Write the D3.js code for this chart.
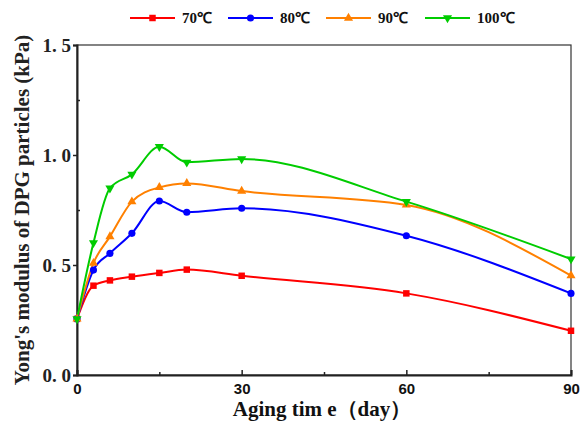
<!DOCTYPE html>
<html>
<head>
<meta charset="utf-8">
<script src="https://cdn.jsdelivr.net/npm/d3@7"></script>
<style>
  html, body { margin: 0; padding: 0; background: #fff; }
  svg { display: block; }
</style>
</head>
<body>
<svg id="chart" width="582" height="425"></svg>
<script>
// Aging time (days) at which the modulus was measured
const days = [0, 3, 6, 10, 15, 20, 30, 60, 90];

// Young's modulus (kPa) for each aging temperature
const t70  = [0.255, 0.406, 0.430, 0.447, 0.464, 0.479, 0.451, 0.371, 0.201];
const t80  = [0.255, 0.477, 0.553, 0.644, 0.791, 0.740, 0.758, 0.633, 0.371];
const t90  = [0.255, 0.508, 0.629, 0.788, 0.853, 0.871, 0.836, 0.773, 0.452];
const t100 = [0.255, 0.601, 0.849, 0.912, 1.038, 0.967, 0.982, 0.788, 0.527];

const seriesNames = ["70℃", "80℃", "90℃", "100℃"];
const xTicks = [0, 30, 60, 90];
const yTicks = [0.0, 0.5, 1.0, 1.5];
const yTickLabels = ["0. 0", "0. 5", "1. 0", "1. 5"];

const series = [
  { name: seriesNames[0], values: t70,  color: "#ff0000", symbol: d3.symbolSquare,   size: 42, rot: 0 },
  { name: seriesNames[1], values: t80,  color: "#0000ff", symbol: d3.symbolCircle,   size: 40, rot: 0 },
  { name: seriesNames[2], values: t90,  color: "#ff8000", symbol: d3.symbolTriangle, size: 36, rot: 0 },
  { name: seriesNames[3], values: t100, color: "#00cc00", symbol: d3.symbolTriangle, size: 36, rot: 180 }
];

const svg = d3.select("#chart");
const plotLeft = 77, plotRight = 571, plotTop = 45, plotBottom = 375;

const x = d3.scaleLinear().domain([0, 90]).range([plotLeft, plotRight]);
const y = d3.scaleLinear().domain([0, 1.5]).range([plotBottom, plotTop]);

const serif = "'Liberation Serif', 'Times New Roman', serif";
const sans = "'Liberation Sans', Arial, sans-serif";

// Frame
svg.append("rect")
  .attr("x", plotLeft).attr("y", plotTop)
  .attr("width", plotRight - plotLeft).attr("height", plotBottom - plotTop)
  .attr("fill", "none").attr("stroke", "#333").attr("stroke-width", 1.2);

// Bottom axis: ticks pointing inward
const xAxis = svg.append("g").attr("transform", `translate(0,${plotBottom})`)
  .call(d3.axisBottom(x).tickValues(xTicks).tickSize(-5).tickFormat(d3.format("d")));
xAxis.select(".domain").attr("stroke", "#222").attr("stroke-width", 2);
xAxis.selectAll(".tick line").attr("stroke", "#222").attr("stroke-width", 1.5);
xAxis.selectAll(".tick text")
  .attr("y", 8)
  .attr("font-family", sans).attr("font-weight", "bold").attr("font-size", 15)
  .attr("fill", "#111");
// minor x ticks
const xMinor = svg.append("g").attr("transform", `translate(0,${plotBottom})`)
  .call(d3.axisBottom(x).tickValues([15, 45, 75]).tickSize(-3).tickFormat(""));
xMinor.select(".domain").remove();
xMinor.selectAll(".tick line").attr("stroke", "#222").attr("stroke-width", 1.5);

// Left axis: major ticks outward, minor inward
const yAxis = svg.append("g").attr("transform", `translate(${plotLeft},0)`)
  .call(d3.axisLeft(y).tickValues(yTicks).tickSize(4).tickPadding(2)
    .tickFormat((d, i) => yTickLabels[i]));
yAxis.select(".domain").attr("stroke", "#222").attr("stroke-width", 2);
yAxis.selectAll(".tick line").attr("stroke", "#222").attr("stroke-width", 1.5);
yAxis.selectAll(".tick text")
  .attr("font-family", serif).attr("font-weight", "bold").attr("font-size", 19)
  .attr("fill", "#222").attr("dy", "0.35em");
const yMinor = svg.append("g").attr("transform", `translate(${plotLeft},0)`)
  .call(d3.axisLeft(y).tickValues([0.25, 0.75, 1.25]).tickSize(-3).tickFormat(""));
yMinor.select(".domain").remove();
yMinor.selectAll(".tick line").attr("stroke", "#222").attr("stroke-width", 1.5);

// Axis titles
svg.append("text")
  .attr("x", (plotLeft + plotRight) / 2 - 2).attr("y", 416)
  .attr("text-anchor", "middle")
  .attr("font-family", serif).attr("font-weight", "bold").attr("font-size", 21)
  .attr("fill", "#111")
  .text("Aging tim e（day）");

svg.append("text")
  .attr("transform", `translate(29,${(plotTop + plotBottom) / 2}) rotate(-90)`)
  .attr("text-anchor", "middle")
  .attr("font-family", serif).attr("font-weight", "bold").attr("font-size", 21)
  .attr("fill", "#222")
  .text("Yong's modulus of DPG particles (kPa)");

// Lines and markers
const line = d3.line()
  .x((d, i) => x(days[i]))
  .y(d => y(d))
  .curve(d3.curveMonotoneX);

const plot = svg.append("g");
series.forEach(s => {
  plot.append("path")
    .datum(s.values)
    .attr("d", line)
    .attr("fill", "none")
    .attr("stroke", s.color)
    .attr("stroke-width", 2);
});
series.forEach(s => {
  plot.selectAll(null)
    .data(s.values)
    .join("path")
    .attr("d", d3.symbol().type(s.symbol).size(s.size))
    .attr("transform", (d, i) => `translate(${x(days[i])},${y(d)}) rotate(${s.rot})`)
    .attr("fill", s.color);
});

// Legend
const legendX = [130, 228, 326, 425];
const legend = svg.append("g");
series.forEach((s, i) => {
  const lx = legendX[i], ly = 18;
  legend.append("line")
    .attr("x1", lx).attr("x2", lx + 45).attr("y1", ly).attr("y2", ly)
    .attr("stroke", s.color).attr("stroke-width", 2);
  legend.append("path")
    .attr("d", d3.symbol().type(s.symbol).size(s.size))
    .attr("transform", `translate(${lx + 22.5},${ly}) rotate(${s.rot})`)
    .attr("fill", s.color);
  legend.append("text")
    .attr("x", lx + 52).attr("y", ly + 5)
    .attr("font-family", serif).attr("font-weight", "bold").attr("font-size", 15)
    .attr("fill", "#111")
    .text(s.name);
});
</script>
</body>
</html>
